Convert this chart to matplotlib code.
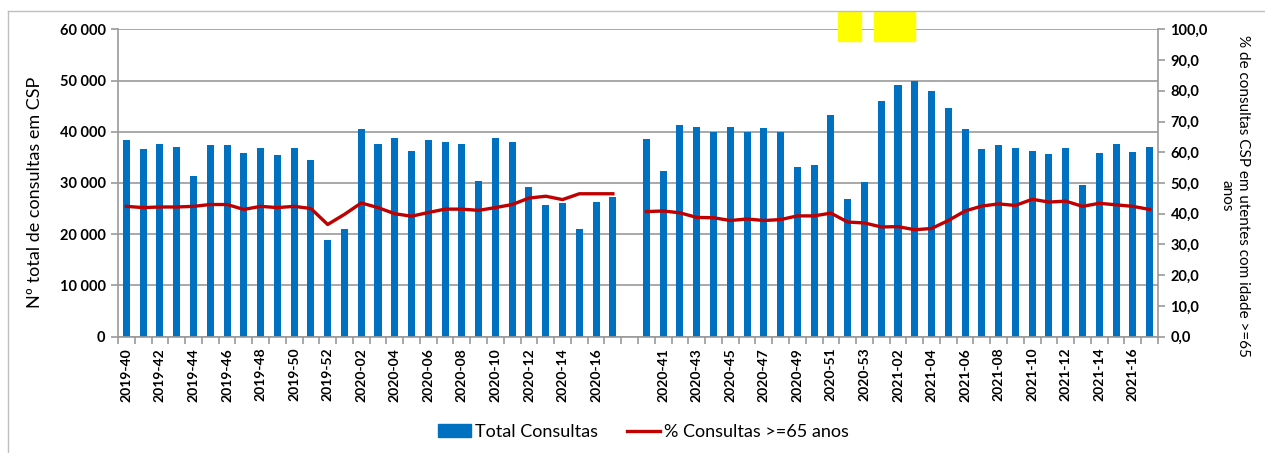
import numpy as np
import matplotlib.pyplot as plt
from matplotlib.ticker import FuncFormatter, FixedLocator
from matplotlib.lines import Line2D
from matplotlib.patches import Patch, Rectangle

plt.rcParams['font.family'] = ['Lato', 'DejaVu Sans']

# week labels (one empty category between the two seasons)
weeks = ([f"2019-{w}" for w in range(40, 53)] + [f"2020-{w:02d}" for w in range(1, 18)]
         + [""]
         + [f"2020-{w}" for w in range(40, 54)] + [f"2021-{w:02d}" for w in range(1, 18)])

total_2019_20 = [38300, 36600, 37600, 37100, 31400, 37400, 37400, 35800, 36800, 35400,
                 36800, 34400, 18800, 21100, 40500, 37700, 38700, 36300, 38300, 38000,
                 37700, 30400, 38800, 38000, 29300, 25800, 26000, 21000, 26200, 27300]
total_2020_21 = [38500, 32400, 41300, 41000, 40000, 41000, 39900, 40700, 40000, 33100,
                 33600, 43200, 26900, 30200, 46100, 49100, 50000, 47900, 44700, 40500,
                 36600, 37400, 36900, 36300, 35700, 36900, 29700, 35900, 37600, 36100, 37100]

pct_2019_20 = [42.4, 42.0, 42.2, 42.2, 42.4, 43.0, 43.0, 41.4, 42.4, 42.0,
               42.4, 41.7, 36.5, 39.8, 43.5, 42.0, 40.0, 39.2, 40.4, 41.5,
               41.5, 41.1, 42.0, 43.0, 45.1, 45.7, 44.6, 46.5, 46.5, 46.5]
pct_2020_21 = [40.7, 40.9, 40.3, 38.8, 38.7, 37.8, 38.3, 37.8, 38.1, 39.3,
               39.3, 40.2, 37.3, 37.0, 35.7, 35.8, 34.8, 35.2, 37.8, 40.9,
               42.5, 43.2, 42.7, 44.7, 43.8, 44.1, 42.4, 43.4, 42.9, 42.4, 41.4]

total = np.array(total_2019_20 + [np.nan] + total_2020_21, dtype=float)
pct = np.array(pct_2019_20 + [np.nan] + pct_2020_21, dtype=float)
x = np.arange(len(weeks))

blue = '#0070C0'
red = '#C00000'
grey = '#9A9A9A'

W, H = 1265, 453
fig = plt.figure(figsize=(W / 100, H / 100), dpi=100)
ax = fig.add_axes([118 / W, 1 - 336.7 / H, (1158 - 118) / W, (336.7 - 29.3) / H])

ax.bar(x, total, width=0.42, color=blue, zorder=2)
ax.set_xlim(-0.5, len(weeks) - 0.5)
ax.set_ylim(0, 60000)
ax.set_yticks(np.arange(0, 60001, 10000))
ax.yaxis.set_major_formatter(FuncFormatter(lambda v, p: f"{int(v):,}".replace(",", " ")))
ax.grid(axis='y', color=grey, linewidth=1.2, zorder=0)
ax.set_axisbelow(True)

for s in ['top', 'right']:
    ax.spines[s].set_visible(False)
for s in ['left', 'bottom']:
    ax.spines[s].set_color(grey)
    ax.spines[s].set_linewidth(1.2)

ax.set_xticks(x[::2])
ax.set_xticklabels(weeks[::2], rotation=90, fontsize=10, fontweight='bold')
ax.xaxis.set_minor_locator(FixedLocator(np.arange(-0.5, len(weeks), 1)))
ax.tick_params(axis='x', which='major', length=0, pad=8)
ax.tick_params(axis='x', which='minor', length=5, color=grey, width=1.2)
ax.tick_params(axis='y', length=5, color=grey, width=1.2, labelsize=10.5, pad=4)
for t in ax.get_yticklabels():
    t.set_fontweight('bold')

ax2 = ax.twinx()
ax2.plot(x, pct, color=red, linewidth=2.4, zorder=3)
ax2.set_ylim(0, 100)
ax2.set_yticks(np.arange(0, 101, 10))
ax2.yaxis.set_major_formatter(FuncFormatter(lambda v, p: f"{v:.1f}".replace(".", ",")))
ax2.tick_params(axis='y', length=5, color=grey, width=1.2, labelsize=10.5, pad=4)
for t in ax2.get_yticklabels():
    t.set_fontweight('bold')
for s in ['top', 'left', 'bottom']:
    ax2.spines[s].set_visible(False)
ax2.spines['right'].set_color(grey)
ax2.spines['right'].set_linewidth(1.2)

# axis titles
fig.text(35 / W, 1 - 192 / H, 'Nº total de consultas em CSP', fontsize=13,
         rotation=90, ha='center', va='center')
fig.text(1235 / W, 1 - 196 / H, '% de consultas CSP em utentes com idade >=65\nanos',
         fontsize=11, rotation=270, ha='center', va='center', multialignment='center')

handles = [Patch(color=blue, label='Total Consultas'),
           Line2D([0], [0], color=red, linewidth=2.4, label='% Consultas >=65 anos')]
fig.legend(handles=handles, loc='center', bbox_to_anchor=(0.5 + 11 / W, 1 - 432 / H), ncol=2,
           frameon=False, fontsize=13, handlelength=1.8, handletextpad=0.25,
           columnspacing=1.6)

# outer chart frame and yellow highlight marks
fig.add_artist(Line2D([8 / W, 8 / W], [0, 1 - 11 / H], color='#BFBFBF', linewidth=1))
fig.add_artist(Line2D([8 / W, 1], [1 - 11 / H, 1 - 11 / H], color='#BFBFBF', linewidth=1))
fig.add_artist(Rectangle((838 / W, 1 - 41 / H), 23 / W, 29 / H, color='#FFFF00'))
fig.add_artist(Rectangle((874 / W, 1 - 41 / H), 41 / W, 29 / H, color='#FFFF00'))

fig.savefig('out.png', dpi=100)
